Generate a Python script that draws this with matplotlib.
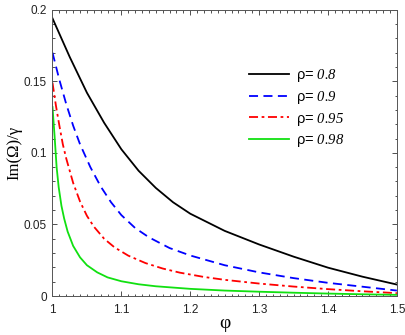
import matplotlib
matplotlib.use("Agg")
from matplotlib import pyplot as plt
from matplotlib.ticker import MultipleLocator

# values
phi_08 = [1.0, 1.025, 1.05, 1.075, 1.1, 1.125, 1.15, 1.175, 1.2, 1.25, 1.3, 1.35, 1.4, 1.45, 1.5]
im_08 = [0.194, 0.167, 0.142, 0.121, 0.1025, 0.0875, 0.0755, 0.0655, 0.0575, 0.0455, 0.036,
         0.0275, 0.0198, 0.0135, 0.008]

phi_09 = [1.0, 1.01, 1.02, 1.03, 1.04, 1.055, 1.07, 1.085, 1.1, 1.12, 1.14, 1.17, 1.2, 1.25,
          1.3, 1.35, 1.4, 1.45, 1.5]
im_09 = [0.170, 0.151, 0.134, 0.119, 0.106, 0.090, 0.0765, 0.0655, 0.0565, 0.0475, 0.041,
         0.0335, 0.0283, 0.0215, 0.0165, 0.0125, 0.0092, 0.0065, 0.0038]

phi_095 = [1.0, 1.005, 1.01, 1.015, 1.02, 1.03, 1.04, 1.05, 1.06, 1.075, 1.09, 1.11, 1.135,
           1.16, 1.185, 1.22, 1.25, 1.3, 1.35, 1.4, 1.45, 1.5]
im_095 = [0.149, 0.133, 0.119, 0.106, 0.096, 0.079, 0.066, 0.056, 0.0485, 0.040, 0.034, 0.0282,
          0.023, 0.0192, 0.0163, 0.0133, 0.0113, 0.0087, 0.0066, 0.0048, 0.0033, 0.002]

phi_098 = [1.0, 1.003, 1.006, 1.009, 1.013, 1.017, 1.022, 1.03, 1.04, 1.05, 1.065, 1.08, 1.1,
           1.125, 1.15, 1.2, 1.25, 1.3, 1.35, 1.4, 1.45, 1.5]
im_098 = [0.132, 0.112, 0.090, 0.076, 0.063, 0.054, 0.045, 0.035, 0.027, 0.0215, 0.0165, 0.013,
          0.0103, 0.0082, 0.0068, 0.005, 0.0038, 0.003, 0.0023, 0.0017, 0.0012, 0.0008]

rho_labels = ["0.8", "0.9", "0.95", "0.98"]

plt.rcParams['mathtext.fontset'] = 'custom'
plt.rcParams['mathtext.rm'] = 'Liberation Serif:italic'
plt.rcParams['font.family'] = ['Liberation Sans', 'DejaVu Sans']

fig = plt.figure(figsize=(4.05, 3.35), dpi=100)
ax = fig.add_axes([0.1296, 0.1164, 0.8504, 0.8546])

ax.plot(phi_08, im_08, color='black', lw=1.3, label='ρ= $\\mathrm{%s}$' % rho_labels[0])
ax.plot(phi_09, im_09, color='blue', lw=1.3, dashes=(5, 3), label='ρ= $\\mathrm{%s}$' % rho_labels[1])
ax.plot(phi_095, im_095, color='red', lw=1.3, dashes=(5, 2, 1.5, 2), label='ρ= $\\mathrm{%s}$' % rho_labels[2])
ax.plot(phi_098, im_098, color='#11e011', lw=1.3, label='ρ= $\\mathrm{%s}$' % rho_labels[3])

ax.set_xlim(1.0, 1.5)
ax.set_ylim(0, 0.2)
ax.xaxis.set_minor_locator(MultipleLocator(0.01))
ax.yaxis.set_minor_locator(MultipleLocator(0.01))
ax.set_xticks([1.0, 1.1, 1.2, 1.3, 1.4, 1.5])
ax.set_xticklabels(['1', '1.1', '1.2', '1.3', '1.4', '1.5'])
ax.set_yticks([0, 0.05, 0.1, 0.15, 0.2])
ax.set_yticklabels(['0', '0.05', '0.1', '0.15', '0.2'])
ax.tick_params(which='both', direction='in', top=True, right=True, labelsize=8.5, colors='#333333',
               labelcolor='#222222', width=0.6)
ax.tick_params(which='major', length=3.5, pad=4)
ax.tick_params(axis='x', which='major', pad=6)
ax.tick_params(which='minor', length=1.8)
for s in ax.spines.values():
    s.set_linewidth(0.7)
    s.set_color('#555555')

ax.set_xlabel('φ', family='Liberation Serif', fontsize=14, labelpad=-1)
ax.set_ylabel('Im(Ω)/γ', family='Liberation Serif', fontsize=12, labelpad=1)

ax.legend(loc='upper right', bbox_to_anchor=(0.885, 0.845), frameon=False, fontsize=10.5,
          handlelength=2.7, handletextpad=0.5, labelspacing=0.32)

fig.savefig('out.png', dpi=100)
